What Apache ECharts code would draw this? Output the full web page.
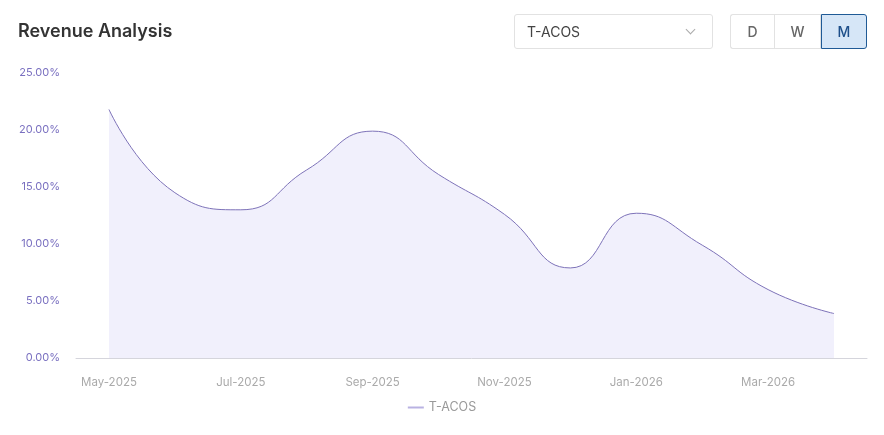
<!DOCTYPE html>
<html>
<head>
<meta charset="utf-8">
<title>Revenue Analysis</title>
<script src="https://cdn.jsdelivr.net/npm/echarts@6/dist/echarts.min.js"></script>
<style>
	html, body { margin: 0; padding: 0; background: #fff; font-family: Inter, "Noto Sans", sans-serif; }
	#wrap { position: relative; width: 884px; height: 435px; }
	#chart { position: absolute; left: 0; top: 0; width: 884px; height: 435px; }
	.title { position: absolute; left: 18px; top: 20px; font-size: 18px; font-weight: 600; color: #333; }
	.select { position: absolute; left: 514px; top: 14px; width: 199px; height: 35px; border: 1px solid #e2e2e2; border-radius: 3px; box-sizing: border-box; }
	.select span { position: absolute; left: 12px; top: 8px; font-size: 14px; color: #444; }
	.select i { position: absolute; right: 18px; top: 11px; width: 6px; height: 6px; border-right: 1px solid #aaa; border-bottom: 1px solid #aaa; transform: rotate(45deg); }
	.btns { position: absolute; left: 730px; top: 14px; height: 35px; display: flex; }
	.btns div { height: 35px; box-sizing: border-box; border: 1px solid #e2e2e2; font-size: 14px; font-weight: 500; color: #666; text-align: center; line-height: 33px; }
	.btns .d { width: 44px; border-radius: 3px 0 0 3px; border-right: none; }
	.btns .w { width: 47px; }
	.btns .m { width: 46px; border: 1px solid #1f5a96; background: #d6e6f7; color: #1d4f8a; border-radius: 0 3px 3px 0; }
</style>
</head>
<body>
<div id="wrap">
	<div id="chart"></div>
	<div class="title">Revenue Analysis</div>
	<div class="select"><span>T-ACOS</span><i></i></div>
	<div class="btns"><div class="d">D</div><div class="w">W</div><div class="m">M</div></div>
</div>
<script>
	// months shown on the x axis
	var months = ['May-2025', 'Jun-2025', 'Jul-2025', 'Aug-2025', 'Sep-2025', 'Oct-2025',
		'Nov-2025', 'Dec-2025', 'Jan-2026', 'Feb-2026', 'Mar-2026', 'Apr-2026'];

	// T-ACOS in percent
	var tacos = [21.8, 14.5, 13.0, 16.5, 19.9, 16.1, 12.6, 7.9, 12.7, 9.9, 6.0, 3.9];

	var seriesName = 'T-ACOS';

	var option = {
		animation: false,
		grid: { left: 76, right: 17, top: 73, bottom: 77 },
		legend: {
			bottom: 16,
			left: 'center',
			icon: 'rect',
			itemWidth: 16,
			itemHeight: 2,
			itemGap: 4,
			textStyle: { color: '#999', fontSize: 12.5, fontFamily: 'Inter' },
			data: [seriesName]
		},
		xAxis: {
			type: 'category',
			data: months,
			boundaryGap: true,
			axisLine: { lineStyle: { color: '#d5d5dc' } },
			axisTick: { show: false },
			axisLabel: { color: '#aaa', fontSize: 11.5, fontFamily: 'Inter', interval: 1, margin: 19 }
		},
		yAxis: {
			type: 'value',
			min: 0,
			max: 25,
			interval: 5,
			axisLine: { show: false },
			axisTick: { show: false },
			splitLine: { show: false },
			axisLabel: {
				color: '#7a70c0',
				fontSize: 11,
				fontFamily: 'Inter',
				margin: 16,
				formatter: function(v){ return v.toFixed(2) + '%'; }
			}
		},
		series: [{
			name: seriesName,
			type: 'line',
			data: tacos,
			smooth: true,
			symbol: 'none',
			lineStyle: { color: '#7d72b8', width: 1 },
			itemStyle: { color: '#b9b2e2' },
			areaStyle: { color: '#f1f0fc', opacity: 1 }
		}]
	};

	echarts.init(document.getElementById('chart')).setOption(option);
</script>
</body>
</html>
